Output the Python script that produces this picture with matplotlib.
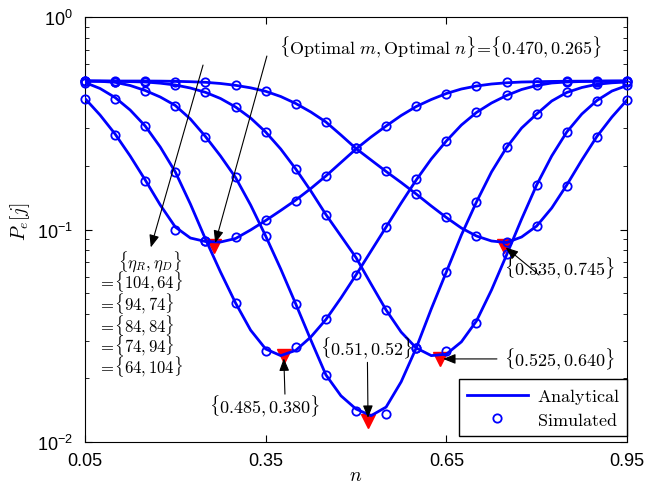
import matplotlib
matplotlib.use('Agg')
import matplotlib.pyplot as plt
import numpy as np
from matplotlib.lines import Line2D

plt.rcParams['font.family'] = ['Liberation Sans', 'DejaVu Sans']
plt.rcParams['mathtext.fontset'] = 'custom'
plt.rcParams['mathtext.rm'] = 'Liberation Sans'
plt.rcParams['mathtext.it'] = 'Liberation Sans:italic'

# analytical curves, read every 0.025 in n
n_fine = np.linspace(0.05, 0.95, 37)
pe_a = [0.4135, 0.3457, 0.2814, 0.2218, 0.1710, 0.1304, 0.1027, 0.0912, 0.0878, 0.0873,
        0.0907, 0.0995, 0.1102, 0.1229, 0.1376, 0.1559, 0.1786, 0.2067, 0.2392, 0.2724,
        0.3069, 0.3439, 0.3791, 0.4090, 0.4365, 0.4583, 0.4734, 0.4838, 0.4902, 0.4944,
        0.4960, 0.4975, 0.4985, 0.4990, 0.4995, 0.4997, 0.4997]
pe_b = [0.4917, 0.4609, 0.4179, 0.3650, 0.3069, 0.2444, 0.1865, 0.1318, 0.0902, 0.0631,
        0.0451, 0.0336, 0.0274, 0.0255, 0.0270, 0.0312, 0.0377, 0.0476, 0.0611, 0.0792,
        0.1027, 0.1332, 0.1710, 0.2147, 0.2609, 0.3102, 0.3553, 0.3938, 0.4272, 0.4559,
        0.4761, 0.4892, 0.4944, 0.4971, 0.4981, 0.4992, 0.4997]
pe_c = [0.4997, 0.4981, 0.4928, 0.4761, 0.4509, 0.4202, 0.3833, 0.3311, 0.2740, 0.2218,
        0.1757, 0.1304, 0.0932, 0.0652, 0.0446, 0.0302, 0.0207, 0.0165, 0.0143, 0.0133,
        0.0146, 0.0192, 0.0277, 0.0423, 0.0631, 0.0942, 0.1347, 0.1865, 0.2431, 0.3003,
        0.3495, 0.4024, 0.4413, 0.4658, 0.4824, 0.4902, 0.4944]
pe_d = [0.4997, 0.4997, 0.4981, 0.4965, 0.4944, 0.4881, 0.4786, 0.4633, 0.4421, 0.4135,
        0.3772, 0.3347, 0.2876, 0.2392, 0.1926, 0.1518, 0.1176, 0.0932, 0.0738, 0.0554,
        0.0418, 0.0329, 0.0277, 0.0255, 0.0259, 0.0296, 0.0371, 0.0519, 0.0759, 0.1120,
        0.1620, 0.2218, 0.2876, 0.3495, 0.4046, 0.4484, 0.4761]
pe_e = [0.4997, 0.4997, 0.4997, 0.4997, 0.4997, 0.4992, 0.4981, 0.4960, 0.4928, 0.4865,
        0.4770, 0.4642, 0.4470, 0.4225, 0.3917, 0.3572, 0.3206, 0.2784, 0.2405, 0.2123,
        0.1875, 0.1664, 0.1469, 0.1290, 0.1139, 0.1016, 0.0932, 0.0883, 0.0868, 0.0922,
        0.1038, 0.1262, 0.1620, 0.2123, 0.2740, 0.3384, 0.4068]

# simulated points, every 0.05 in n
n_sim = np.linspace(0.05, 0.95, 19)
sim_a = [0.4112, 0.2793, 0.1697, 0.0995, 0.0886, 0.0919, 0.1109, 0.1366, 0.1780, 0.2411,
         0.3059, 0.3800, 0.4365, 0.4750, 0.4928, 0.4960, 0.4981, 0.4981, 0.4981]
sim_b = [0.4892, 0.4112, 0.3059, 0.1859, 0.0886, 0.0451, 0.0269, 0.0279, 0.0379, 0.0611,
         0.1024, 0.1729, 0.2618, 0.3561, 0.4295, 0.4786, 0.4960, 0.4971, 0.4981]
sim_c = [0.4997, 0.4928, 0.4499, 0.3825, 0.2716, 0.1761, 0.0929, 0.0446, 0.0207, 0.0140,
         0.0136, 0.0277, 0.0633, 0.1345, 0.2436, 0.3495, 0.4421, 0.4838, 0.4928]
sim_d = [0.4997, 0.4944, 0.4960, 0.4786, 0.4421, 0.3759, 0.2867, 0.1926, 0.1174, 0.0739,
         0.0420, 0.0276, 0.0269, 0.0362, 0.0767, 0.1625, 0.2867, 0.4037, 0.4761]
sim_e = [0.4997, 0.4997, 0.4981, 0.4971, 0.4928, 0.4786, 0.4484, 0.3896, 0.3216, 0.2411,
         0.1879, 0.1469, 0.1143, 0.0929, 0.0871, 0.1042, 0.1607, 0.2733, 0.4082]

# optimal points (red triangles)
opt_n = [0.265, 0.380, 0.520, 0.640, 0.745]
opt_pe = [0.0839, 0.0255, 0.0126, 0.0246, 0.0839]
opt_labels = [r'$\{\mathrm{Optimal}\ m, \mathrm{Optimal}\ n\}\!=\!\{0.470, 0.265\}$',
              r'$\{0.485, 0.380\}$', r'$\{0.51, 0.52\}$',
              r'$\{0.525, 0.640\}$', r'$\{0.535, 0.745\}$']
# label centre and arrow tail (n, Pe)
label_pos = [(0.641, 0.73), (0.349, 0.0148), (0.518, 0.0279), (0.839, 0.0248), (0.839, 0.0661)]
tail_pos = [(0.352, 0.655), (0.382, 0.0168), (0.519, 0.0237), (0.734, 0.0246), (0.804, 0.0611)]

eta_pairs = ['104, 64', '94, 74', '84, 84', '74, 94', '64, 104']
eta_y = [0.0574, 0.0454, 0.0359, 0.0289, 0.0229]

analytical = [pe_a, pe_b, pe_c, pe_d, pe_e]
simulated = [sim_a, sim_b, sim_c, sim_d, sim_e]

fig = plt.figure(figsize=(6.47, 4.85), dpi=100)
ax = fig.add_axes([85/647, 1 - 443/485, 542/647, 425/485])

ax.plot(opt_n, opt_pe, 'v', color='r', ms=10, clip_on=False, zorder=2)
for pe in analytical:
    ax.plot(n_fine, pe, color='b', lw=2, zorder=3)
for pe in simulated:
    ax.plot(n_sim, pe, 'o', mfc='none', mec='b', ms=6, mew=1.3, clip_on=False, zorder=4)

ax.set_yscale('log')
ax.set_xlim(0.05, 0.95)
ax.set_ylim(1e-2, 1e0)
ax.set_xticks([0.05, 0.35, 0.65, 0.95])
ax.set_xticklabels(['0.05', '0.35', '0.65', '0.95'])
ax.tick_params(which='both', direction='in', top=True, right=True, labelsize=13)
ax.tick_params(which='major', length=5)
ax.tick_params(which='minor', length=3)
ax.tick_params(axis='x', pad=7)
ax.tick_params(axis='y', pad=9)

ax.set_xlabel(r'$n$', fontsize=14, math_fontfamily='cm')
ax.set_ylabel(r'$P_e[j]$', fontsize=14, math_fontfamily='cm')
ax.xaxis.set_label_coords(0.5, -0.078)
ax.xaxis.label.set_va('center')
ax.yaxis.set_label_coords(-0.12, 0.52)
ax.yaxis.label.set_va('center')

arrow = dict(arrowstyle='-|>,head_length=0.5,head_width=0.2', color='k', lw=0.8,
             mutation_scale=15, shrinkA=0, shrinkB=2)
for i in range(5):
    ax.text(label_pos[i][0], label_pos[i][1], opt_labels[i], fontsize=13,
            ha='center', va='center', math_fontfamily='cm', zorder=6)
    ax.annotate('', xy=(opt_n[i], opt_pe[i]), xytext=tail_pos[i], arrowprops=arrow, zorder=6)

# eta block
ax.annotate('', xy=(0.158, 0.0800), xytext=(0.246, 0.594), arrowprops=arrow, zorder=6)
ax.text(0.158, 0.0712, r'$\{\eta_R, \eta_D\}$', fontsize=12, ha='center', va='center',
        math_fontfamily='cm')
for pair, y in zip(eta_pairs, eta_y):
    ax.text(0.072, y, r'$=\!\{' + pair + r'\}$', fontsize=12, ha='left', va='center',
            math_fontfamily='cm')

handles = [Line2D([], [], color='b', lw=2),
           Line2D([], [], ls='none', marker='o', mfc='none', mec='b', ms=6, mew=1.3)]
leg = ax.legend(handles, [r'$\mathrm{Analytical}\quad$', r'$\mathrm{Simulated}\quad$'],
                loc='lower right', bbox_to_anchor=(1.0, 6/425), borderaxespad=0,
                fancybox=False, edgecolor='k', framealpha=1, fontsize=13,
                handlelength=3.4, borderpad=0.4, labelspacing=0.3, handletextpad=0.5)
leg.get_frame().set_linewidth(1.0)
for t in leg.get_texts():
    t.set_math_fontfamily('cm')

fig.savefig('out.png', dpi=100)
